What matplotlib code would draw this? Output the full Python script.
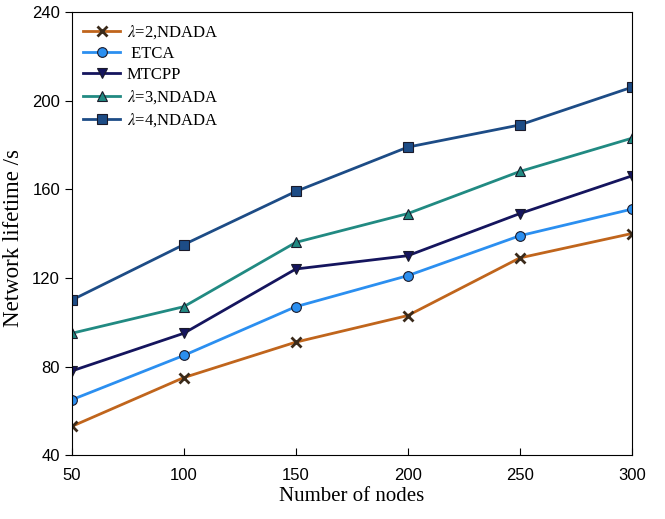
import matplotlib.pyplot as plt

# data
nodes = [50, 100, 150, 200, 250, 300]
lam2_ndada = [53, 75, 91, 103, 129, 140]
etca = [65, 85, 107, 121, 139, 151]
mtcpp = [78, 95, 124, 130, 149, 166]
lam3_ndada = [95, 107, 136, 149, 168, 183]
lam4_ndada = [110, 135, 159, 179, 189, 206]

labels = [r'$\lambda$=2,NDADA', ' ETCA', 'MTCPP', r'$\lambda$=3,NDADA', r'$\lambda$=4,NDADA']
series = [lam2_ndada, etca, mtcpp, lam3_ndada, lam4_ndada]
colors = ['#c0651c', '#2b8ff0', '#15155e', '#218a82', '#1d4c86']
markers = ['x', 'o', 'v', '^', 's']

plt.rcParams['mathtext.fontset'] = 'stix'

fig = plt.figure(figsize=(6.65, 5.19), dpi=100)
ax = fig.add_axes([0.108, 0.123, 0.842, 0.854])

for vals, lab, c, m in zip(series, labels, colors, markers):
    if m == 'x':
        ax.plot(nodes, vals, color=c, lw=2, marker=m, ms=7, mew=2,
                mec='#3a2a1a', label=lab)
    else:
        ax.plot(nodes, vals, color=c, lw=2, marker=m, ms=7, mew=0.8,
                mec='#1a1a2a', mfc=c, label=lab)

ax.set_xlim(50, 300)
ax.set_ylim(40, 240)
ax.set_xticks(nodes)
ax.set_yticks([40, 80, 120, 160, 200, 240])
ax.tick_params(axis='x', direction='in', length=5, pad=9, labelsize=12)
ax.tick_params(axis='y', direction='out', length=5, labelsize=12)
for lbl in ax.get_xticklabels() + ax.get_yticklabels():
    lbl.set_family('Liberation Sans')

ax.set_xlabel('Number of nodes', fontsize=15, family='Liberation Serif', labelpad=3)
ax.set_ylabel('Network lifetime /s', fontsize=16.5, family='Liberation Serif', labelpad=2)
ax.yaxis.set_label_coords(-0.085, 0.49)

leg = ax.legend(loc='upper left', frameon=False, prop={'family': 'Liberation Serif', 'size': 12},
                handlelength=2.2, labelspacing=0.3, borderaxespad=0.3, handletextpad=0.4)

plt.savefig('out.png', dpi=100)
